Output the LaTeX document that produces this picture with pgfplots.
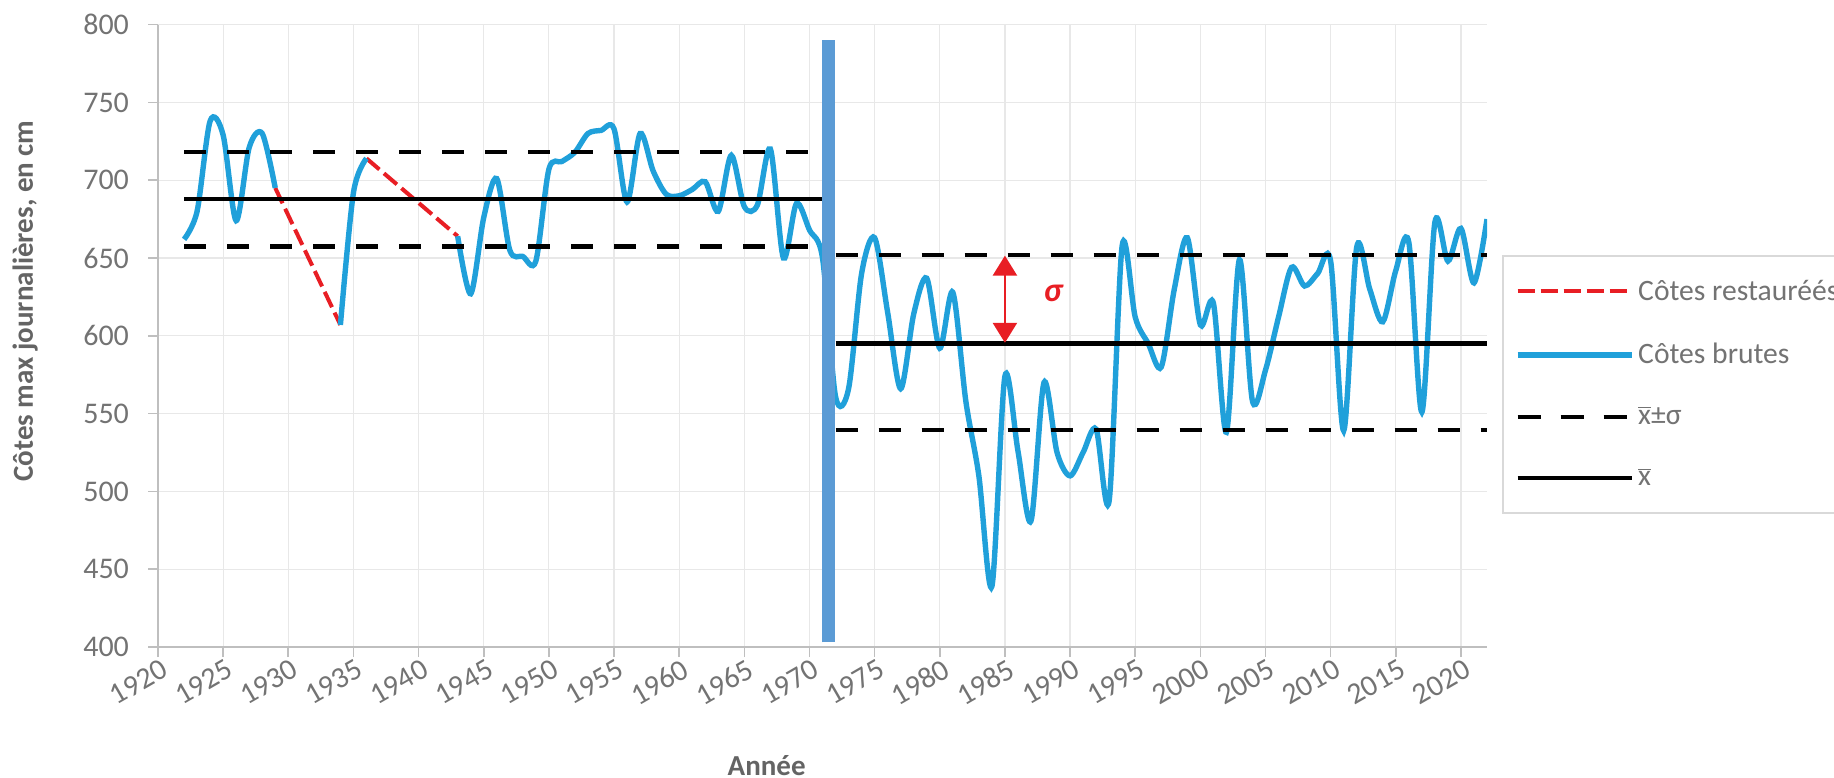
\documentclass[border=0pt]{standalone}
\usepackage{fontspec}
\setmainfont{Carlito}
\usepackage{pgfplots}
\pgfplotsset{compat=1.18}
\usetikzlibrary{arrows.meta}
\definecolor{cblue}{RGB}{32,160,218}
\definecolor{barblue}{RGB}{91,155,213}
\definecolor{cred}{RGB}{232,30,36}
\definecolor{gridc}{RGB}{232,232,232}
\definecolor{axc}{RGB}{191,191,191}
\definecolor{txt}{RGB}{115,115,115}
\definecolor{lbl}{RGB}{100,100,100}
\definecolor{legc}{RGB}{217,217,217}
\newcommand{\xb}{\ensuremath{\overline{\mbox{x}}}}
\begin{document}
\begin{tikzpicture}
\begin{axis}[
  at={(79pt,65pt)}, anchor=south west,
  scale only axis, width=664.5pt, height=311.2pt,
  xmin=1920, xmax=2022, ymin=400, ymax=800,
  xtick={1920,1925,...,2020}, ytick={400,450,...,800},
  axis lines*=left,
  axis line style={axc, line width=0.8pt},
  grid=major, grid style={gridc, line width=0.6pt},
  tick style={axc, line width=0.8pt}, major tick length=5pt, tick align=outside,
  /pgf/number format/1000 sep={},
  /pgf/number format/assume math mode=true,
  ticklabel style={font=\fontsize{15}{17}\selectfont, text=txt},
  xticklabel style={rotate=30, anchor=east, xshift=4pt, yshift=-6pt},
  yticklabel style={xshift=-6pt},
  xlabel={Année}, ylabel={Côtes max journalières, en cm},
  label style={font=\bfseries\fontsize{14.5}{17}\selectfont, text=lbl},
  xlabel style={at={(axis description cs:0.458,-0.191)}, anchor=center},
  ylabel style={at={(axis description cs:-0.100,0.556)}, anchor=center},
  legend image code/.code={\draw[#1] (0pt,0pt) -- (57pt,0pt);},
  legend style={at={(1.0113,0.6298)}, anchor=north west, draw=legc, fill=white,
    line width=0.8pt,
    inner xsep=6pt, inner ysep=10pt, row sep=16pt,
    font=\fontsize{14.8}{17}\selectfont, text=txt,
    nodes={inner sep=2pt},
    /tikz/every even column/.append style={column sep=5pt}},
  legend cell align=left,
]
\addlegendimage{cred, line width=2pt, dash pattern=on 8.5pt off 3pt}
\addlegendentry{Côtes restauréés}
\addlegendimage{cblue, line width=2.7pt}
\addlegendentry{Côtes brutes}
\addlegendimage{black, line width=2.2pt, dash pattern=on 11.5pt off 10pt}
\addlegendentry{\xb±σ}
\addlegendimage{black, line width=2.2pt}
\addlegendentry{\xb}

% restored values
\addplot[forget plot, cred, line width=2pt, dash pattern=on 8.5pt off 3pt] coordinates {(1929,695) (1934,607)};
\addplot[forget plot, cred, line width=2pt, dash pattern=on 8.5pt off 3pt] coordinates {(1936,714) (1943,664)};

% raw values
\addplot[forget plot, cblue, line width=2.7pt, smooth, tension=0.5] coordinates {
(1922,662) (1923,680) (1924,738) (1925,729) (1926,674) (1927,721) (1928,730) (1929,695)};
\addplot[forget plot, cblue, line width=2.7pt, smooth, tension=0.5] coordinates {
(1934,607) (1935,692) (1936,714)};
\addplot[forget plot, cblue, line width=2.7pt, smooth, tension=0.5] coordinates {
(1943,664) (1944,627) (1945,676) (1946,701) (1947,655) (1948,651) (1949,648)
(1950,707) (1951,712) (1952,718) (1953,730) (1954,732) (1955,733) (1956,686)
(1957,730) (1958,706) (1959,691) (1960,690) (1961,694) (1962,699) (1963,680)
(1964,716) (1965,683) (1966,684) (1967,720) (1968,650) (1969,685) (1970,668)
(1971,650) (1972,561) (1973,566) (1974,640) (1975,663) (1976,615) (1977,566)
(1978,614) (1979,637) (1980,592) (1981,628) (1982,558) (1983,510) (1984,439)
(1985,574) (1986,526) (1987,481) (1988,570) (1989,525) (1990,510) (1991,525)
(1992,540) (1993,494) (1994,658) (1995,612) (1996,595) (1997,580) (1998,630)
(1999,663) (2000,607) (2001,621) (2002,538) (2003,649) (2004,558) (2005,578)
(2006,612) (2007,644) (2008,632) (2009,640) (2010,648) (2011,539) (2012,657)
(2013,630) (2014,609) (2015,642) (2016,660) (2017,551) (2018,673) (2019,648)
(2020,669) (2021,634) (2022,675)};

% mean and sigma bands
\addplot[forget plot, black, line width=2.2pt, dash pattern=on 11pt off 10.5pt] coordinates {(1922,718) (1971,718)};
\addplot[forget plot, black, line width=2.2pt] coordinates {(1922,688) (1971,688)};
\addplot[forget plot, black, line width=2.2pt, dash pattern=on 11pt off 10.5pt] coordinates {(1922,657.5) (1971,657.5)};
\addplot[forget plot, black, line width=2.2pt, dash pattern=on 11pt off 10.5pt] coordinates {(1972,652) (2022,652)};
\addplot[forget plot, black, line width=2.2pt] coordinates {(1972,595) (2022,595)};
\addplot[forget plot, black, line width=2.2pt, dash pattern=on 11pt off 10.5pt] coordinates {(1972,539.5) (2022,539.5)};

% break marker
\addplot[forget plot, barblue, line width=6.5pt] coordinates {(1971.45,403) (1971.45,790)};

\draw[cred, line width=1.3pt, {Triangle[width=12pt,length=10pt]}-{Triangle[width=12pt,length=10pt]}]
  (axis cs:1985,595.5) -- (axis cs:1985,651.5);
\node[text=cred, font=\bfseries\itshape\fontsize{17}{19}\selectfont] at (axis cs:1988.7,627) {σ};
\end{axis}
\pgfresetboundingbox
\path[use as bounding box] (0,0) rectangle (917pt,388.5pt);
\end{tikzpicture}
\end{document}
